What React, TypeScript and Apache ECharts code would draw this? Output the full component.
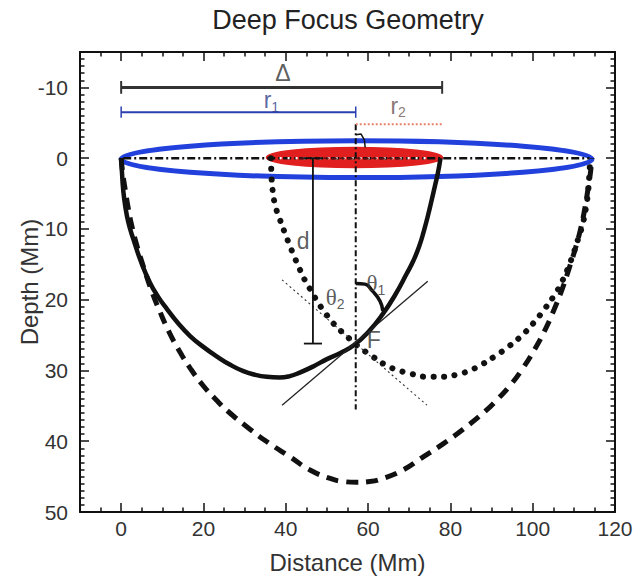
import React, { useEffect, useRef } from "react";
import * as echarts from "echarts";

// ---- axis ranges / ticks ----
const xRange = [-10, 120];
const yRange = [-15, 50];
const xMajorStep = 20;
const yMajorStep = 10;

// ---- ray paths (distance Mm, depth Mm) ----
const solidRay = [
  [0, 0], [0.2, 2], [0.5, 4.5], [1, 6.8], [1.8, 9.2], [3, 11.5], [4.8, 14.6], [7, 17.6], [9, 19.6],
  [11.1, 21.3], [13.8, 23.3], [16.7, 25.1], [19.8, 26.6], [23.2, 28], [26.5, 29.2], [29.7, 30.1],
  [32.5, 30.6], [35.4, 30.9], [38.5, 31], [41, 30.8], [43.4, 30.3], [46.8, 29.4], [50, 28.4],
  [53.4, 27.5], [56.6, 26.4], [60, 24.6], [63.6, 22], [66.6, 19.3], [69.4, 16.3], [71, 14.5],
  [72.4, 12.5], [73.6, 10.2], [74.6, 8], [75.5, 5.8], [76.3, 3.8], [77, 2], [77.6, 0],
];
const dottedRay = [
  [36.4, 0], [36.5, 2], [36.8, 4.5], [37.5, 6.8], [38.6, 8.7], [39.8, 10.6], [41, 12.4], [42.2, 14.1],
  [43.4, 15.7], [44.6, 17.2], [45.9, 18.5], [47.2, 19.8], [48.5, 21], [50, 22.2], [51.5, 23.3],
  [53, 24.2], [54.5, 25], [56, 25.8], [57.4, 26.5], [61, 28], [64.5, 29.3], [67.5, 30], [70.6, 30.5],
  [74.6, 30.9], [78.6, 30.9], [81.5, 30.6], [84.3, 30.1], [87.5, 29.2], [90.8, 28], [94.2, 26.6],
  [97.3, 25.1], [100.2, 23.3], [102.9, 21.3], [105, 19.6], [107, 17.6], [109.2, 14.6], [111, 11.5],
  [112.2, 9.2], [113, 6.8], [113.5, 4.5], [113.8, 2], [114, 0],
];
const dashedRay = [
  [0, 0], [0.4, 2.2], [1, 4.5], [1.7, 7], [2.6, 9.6], [3.9, 12.5], [5.4, 15.3], [7.3, 18.6], [9.5, 21.8],
  [11.6, 24.5], [13.9, 27], [16.8, 29.7], [20, 32.2], [23, 34.1], [26, 35.8], [31.3, 38.3], [36, 40.3],
  [41, 42.2], [46, 44.1], [51, 45.3], [54, 45.7], [57.2, 45.8], [60.4, 45.7], [63.4, 45.3], [68.4, 44.1],
  [73.4, 42.2], [78.4, 40.3], [83.1, 38.3], [88.4, 35.8], [91.4, 34.1], [94.4, 32.2], [97.6, 29.7],
  [100.5, 27], [102.8, 24.5], [104.9, 21.8], [107.1, 18.6], [109, 15.3], [110.5, 12.5], [111.8, 9.6],
  [112.7, 7], [113.4, 4.5], [114, 2.2], [114.4, 0],
];

// ---- construction lines ----
const surfaceLine = [[0.5, 0], [113.8, 0]];
const innerDots = [[38.5, 0], [75, 0]];
const innerDash = [[43.4, 0], [68.4, 0]];
const focusVertical = [[57, -4.8], [57, 35.5]];
const tangentSolid = [[39.1, 34.9], [74.5, 17.4]];
const tangentDotted = [[39.1, 17.2], [74.3, 34.9]];
const theta1Arc = [[57, 17.7], [59.2, 17.8], [61.1, 18.8], [62.9, 20.2], [63.6, 21.6]];
const surfaceHook = [[57, -3.3], [58.3, -3.4], [59.1, -2.6], [59.3, -1.5]];
const deltaBar = [[0, -10], [78, -10]];
const deltaCaps = [[[0, -10.9], [0, -9.1]], [[78, -10.9], [78, -9.1]]];
const r1Bar = [[0, -6.5], [57, -6.5]];
const r1Caps = [[[0, -7.3], [0, -5.7]], [[57, -7.3], [57, -5.7]]];
const r2Bar = [[57, -4.8], [78, -4.8]];
const dBar = [[46.6, 0], [46.6, 26.2]];
const dCaps = [[[44.4, 26.2], [48.8, 26.2]], [[44.4, 0], [48.8, 0]]];

// ---- surface rings: [centerX, centerDepth, semiX, semiDepth] ----
const outerRing = [57.2, 0.15, 57.2, 2.6];
const innerDisk = [56.7, -0.1, 21.2, 1.3];

// ---- annotation labels ----
const labelTexts = [
  "{m|Δ}",
  "{m|r}{s|1}",
  "{m|r}{s|2}",
  "{t|θ}{s|1}",
  "{t|θ}{s|2}",
  "{m|F}",
  "{m|d}",
];
const labelPositions = [
  [39.3, -12.1],
  [36.5, -8.2],
  [67.3, -7.4],
  [61.9, 17.7],
  [52.0, 19.7],
  [61.4, 25.7],
  [44.2, 11.7],
];
const labelColors = ["#333", "#2e3c8c", "#6a5550", "#333", "#333", "#333", "#333"];

const FONT = "'Liberation Sans', Arial, Helvetica, sans-serif";

function lineSeries(data: number[][], color: string, width: number, type: any = "solid", extra: any = {}) {
  return {
    type: "line",
    data,
    symbol: "none",
    showSymbol: false,
    silent: true,
    clip: false,
    lineStyle: { color, width, type, cap: extra.cap || "butt", join: "round" },
    smooth: extra.smooth || false,
  };
}

function ellipseSeries(item: number[], style: any) {
  return {
    type: "custom",
    silent: true,
    clip: false,
    data: [item],
    encode: { x: 0, y: 1 },
    renderItem: (_params: any, api: any) => {
      const c = api.coord([api.value(0), api.value(1)]);
      const s = api.size([api.value(2), api.value(3)]);
      return {
        type: "ellipse",
        shape: { cx: c[0], cy: c[1], rx: Math.abs(s[0]), ry: Math.abs(s[1]) },
        style,
      };
    },
  };
}

export default function App() {
  const ref = useRef<HTMLDivElement>(null);

  useEffect(() => {
    if (!ref.current) return;
    const chart = echarts.init(ref.current, undefined, { renderer: "svg" });

    const axisLine = { show: true, onZero: false, lineStyle: { color: "#111", width: 2 } };
    const tickStyle = { color: "#111", width: 1.5 };
    const labelStyle = { fontSize: 21, color: "#333", fontFamily: FONT };

    const xBase = {
      type: "value",
      min: xRange[0],
      max: xRange[1],
      splitNumber: 6,
      minInterval: xMajorStep,
      maxInterval: xMajorStep,
      axisLine,
      axisTick: { show: true, inside: true, length: 9, lineStyle: tickStyle },
      minorTick: { show: true, splitNumber: 4, length: 4.5, lineStyle: tickStyle },
      splitLine: { show: false },
      minorSplitLine: { show: false },
    };
    const yBase = {
      type: "value",
      min: yRange[0],
      max: yRange[1],
      inverse: true,
      splitNumber: 6,
      minInterval: yMajorStep,
      maxInterval: yMajorStep,
      axisLine,
      axisTick: { show: true, inside: true, length: 9, lineStyle: tickStyle },
      minorTick: { show: true, splitNumber: 10, length: 4.5, lineStyle: tickStyle },
      splitLine: { show: false },
      minorSplitLine: { show: false },
    };

    const labelSeries = {
      type: "scatter",
      silent: true,
      symbolSize: 1,
      itemStyle: { color: "rgba(0,0,0,0)" },
      z: 10,
      data: labelPositions.map((p, i) => ({
        value: p,
        label: {
          show: true,
          position: "inside",
          formatter: labelTexts[i],
          rich: {
            m: { fontSize: 23, fontFamily: FONT, color: labelColors[i] },
            t: { fontSize: 23, fontFamily: "'Liberation Serif', 'Times New Roman', serif", color: labelColors[i] },
            s: { fontSize: 14, fontFamily: FONT, color: labelColors[i], padding: [13, 0, 0, 0] },
          },
        },
      })),
    };

    const option: any = {
      animation: false,
      backgroundColor: "#fff",
      title: {
        text: "Deep Focus Geometry",
        left: 348,
        top: 6,
        padding: 0,
        textAlign: "center",
        textStyle: { fontSize: 27, fontWeight: "normal", color: "#222", fontFamily: FONT },
      },
      grid: { left: 80, right: 29, top: 52, bottom: 69, containLabel: false, outerBoundsMode: "none" },
      xAxis: [
        {
          ...xBase,
          position: "bottom",
          name: "Distance (Mm)",
          nameLocation: "middle",
          nameGap: 38,
          nameMoveOverlap: false,
          nameTextStyle: { fontSize: 24, color: "#333", fontFamily: FONT },
          axisLabel: { ...labelStyle, margin: 6, showMinLabel: false },
        },
        { ...xBase, position: "top", axisLabel: { show: false } },
      ],
      yAxis: [
        {
          ...yBase,
          position: "left",
          name: "Depth (Mm)",
          nameLocation: "middle",
          nameGap: 39,
          nameMoveOverlap: false,
          nameTextStyle: { fontSize: 24, color: "#333", fontFamily: FONT },
          axisLabel: { ...labelStyle, margin: 12, showMinLabel: false },
        },
        { ...yBase, position: "right", axisLabel: { show: false } },
      ],
      series: [
        lineSeries(dashedRay, "#111", 5, [12, 8], { smooth: 0.5 }),
        lineSeries(dottedRay, "#111", 6, [0.1, 10.5], { smooth: 0.5, cap: "round" }),
        lineSeries(solidRay, "#111", 4.5, "solid", { smooth: 0.5 }),
        lineSeries(tangentSolid, "#222", 1.3),
        lineSeries(tangentDotted, "#333", 1.1, [2, 3]),
        ellipseSeries(outerRing, { fill: "none", stroke: "#2140dc", lineWidth: 5 }),
        lineSeries(surfaceLine, "#111", 2.5, [8, 3, 2, 3]),
        ellipseSeries(innerDisk, { fill: "#e11f1f", stroke: "#e11f1f", lineWidth: 3 }),
        lineSeries(innerDots, "#ffffff", 2.2, [2, 6]),
        lineSeries(innerDash, "#5a1010", 1.5, [5, 3]),
        lineSeries(focusVertical, "#111", 2, [6, 3, 2, 3]),
        lineSeries(surfaceHook, "#111", 1.5),
        lineSeries(dBar, "#111", 1.8),
        ...dCaps.map((c) => lineSeries(c, "#111", 1.8)),
        lineSeries(theta1Arc, "#111", 3.5, "solid", { smooth: 0.5 }),
        lineSeries(deltaBar, "#333", 3),
        ...deltaCaps.map((c) => lineSeries(c, "#333", 2)),
        lineSeries(r1Bar, "#2a3fb0", 2),
        ...r1Caps.map((c) => lineSeries(c, "#2a3fb0", 1.5)),
        lineSeries(r2Bar, "#e8806a", 2, [2, 2]),
        labelSeries,
      ],
    };

    chart.setOption(option);
    return () => chart.dispose();
  }, []);

  return (
    <div
      ref={ref}
      style={{ position: "absolute", left: 0, top: 0, width: 644, height: 581, background: "#fff" }}
    />
  );
}
